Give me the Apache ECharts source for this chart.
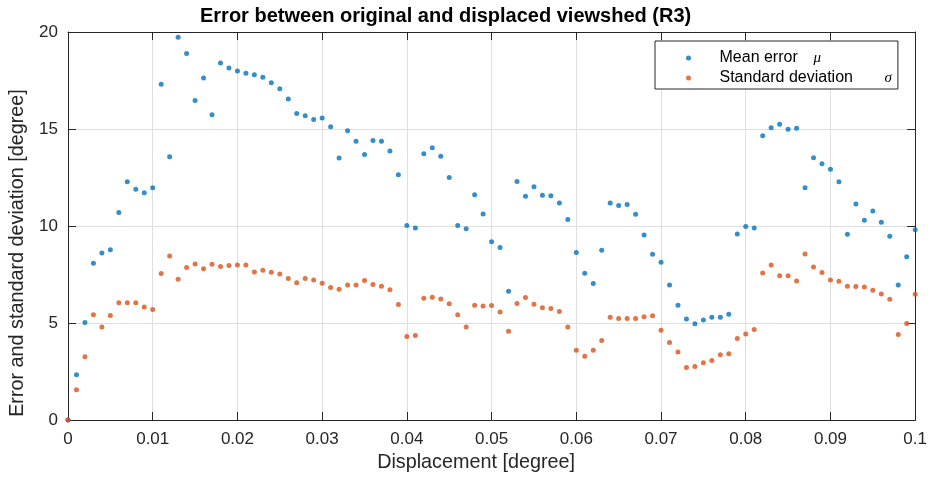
<!DOCTYPE html>
<html>
<head>
<meta charset="utf-8">
<script src="https://cdn.jsdelivr.net/npm/echarts@6/dist/echarts.min.js"></script>
<style>
  html, body { margin: 0; padding: 0; background: #fff; overflow: hidden; }
  #chart { width: 930px; height: 479px; }
</style>
</head>
<body>
<div id="chart"></div>
<script>
// Displacement samples [degree]
const displacement = [
  0, 0.001, 0.002, 0.003, 0.004, 0.005, 0.006, 0.007, 0.008, 0.009,
  0.010, 0.011, 0.012, 0.013, 0.014, 0.015, 0.016, 0.017, 0.018, 0.019,
  0.020, 0.021, 0.022, 0.023, 0.024, 0.025, 0.026, 0.027, 0.028, 0.029,
  0.030, 0.031, 0.032, 0.033, 0.034, 0.035, 0.036, 0.037, 0.038, 0.039,
  0.040, 0.041, 0.042, 0.043, 0.044, 0.045, 0.046, 0.047, 0.048, 0.049,
  0.050, 0.051, 0.052, 0.053, 0.054, 0.055, 0.056, 0.057, 0.058, 0.059,
  0.060, 0.061, 0.062, 0.063, 0.064, 0.065, 0.066, 0.067, 0.068, 0.069,
  0.070, 0.071, 0.072, 0.073, 0.074, 0.075, 0.076, 0.077, 0.078, 0.079,
  0.080, 0.081, 0.082, 0.083, 0.084, 0.085, 0.086, 0.087, 0.088, 0.089,
  0.090, 0.091, 0.092, 0.093, 0.094, 0.095, 0.096, 0.097, 0.098, 0.099,
  0.100
];

// Mean error mu [degree]
const meanError = [
  0, 2.33, 5.03, 8.08, 8.61, 8.77, 10.70, 12.28, 11.89, 11.72,
  11.97, 17.31, 13.57, 19.73, 18.89, 16.47, 17.63, 15.73, 18.40, 18.15,
  17.99, 17.87, 17.79, 17.67, 17.39, 17.08, 16.55, 15.80, 15.68, 15.49,
  15.57, 15.11, 13.50, 14.91, 14.37, 13.69, 14.41, 14.37, 13.86, 12.64,
  10.03, 9.90, 13.72, 14.03, 13.60, 12.50, 10.03, 9.86, 11.61, 10.62,
  9.19, 8.89, 6.64, 12.30, 11.53, 12.02, 11.58, 11.56, 11.18, 10.34,
  8.64, 7.56, 7.03, 8.75, 11.18, 11.06, 11.11, 10.60, 9.54, 8.54,
  8.13, 6.96, 5.92, 5.20, 4.96, 5.15, 5.30, 5.30, 5.45, 9.59,
  9.98, 9.90, 14.65, 15.06, 15.25, 14.99, 15.04, 11.97, 13.52, 13.21,
  12.92, 12.28, 9.57, 11.13, 10.29, 10.77, 10.19, 9.47, 6.96, 8.42,
  9.81
];

// Standard deviation sigma [degree]
const stdDev = [
  0, 1.56, 3.26, 5.42, 4.80, 5.39, 6.04, 6.05, 6.04, 5.83,
  5.69, 7.55, 8.46, 7.26, 7.86, 8.04, 7.80, 8.03, 7.91, 7.96,
  7.99, 7.99, 7.63, 7.72, 7.62, 7.53, 7.29, 7.08, 7.29, 7.22,
  7.05, 6.83, 6.74, 6.96, 6.96, 7.19, 6.98, 6.90, 6.72, 5.95,
  4.31, 4.36, 6.28, 6.33, 6.24, 5.99, 5.42, 4.79, 5.92, 5.88,
  5.90, 5.57, 4.58, 6.00, 6.31, 5.97, 5.78, 5.75, 5.59, 4.79,
  3.60, 3.29, 3.60, 4.10, 5.30, 5.23, 5.23, 5.23, 5.32, 5.37,
  4.63, 4.00, 3.50, 2.71, 2.76, 2.95, 3.07, 3.36, 3.41, 4.20,
  4.43, 4.67, 7.58, 7.99, 7.43, 7.43, 7.17, 8.56, 7.89, 7.60,
  7.22, 7.15, 6.90, 6.88, 6.86, 6.69, 6.50, 6.23, 4.41, 4.97,
  6.48
];

// Tick labels
const xTickLabels = ['0', '0.01', '0.02', '0.03', '0.04', '0.05', '0.06', '0.07', '0.08', '0.09', '0.1'];
const yTickLabels = ['0', '5', '10', '15', '20'];

const FONT = '"Liberation Sans", Arial, Helvetica, sans-serif';
const AXIS_COLOR = '#262626';
const GRID_COLOR = '#dfdfdf';
const BLUE = '#0072BD';
const ORANGE = '#D95319';

const pairs = (xs, ys) => xs.map((x, i) => [x, ys[i]]);

// Unlabelled axes closing the box on the top and right sides
const boxAxisX = (pos) => ({
  type: 'value', position: pos, min: 0, max: 0.1, interval: 0.01,
  axisLine: { show: true, onZero: false, lineStyle: { color: AXIS_COLOR, width: 1 } },
  axisTick: { show: true, inside: true, length: 8, lineStyle: { color: AXIS_COLOR } },
  splitLine: { show: false },
  axisLabel: { show: false }
});
const boxAxisY = (pos) => ({
  type: 'value', position: pos, min: 0, max: 20, interval: 5,
  axisLine: { show: true, onZero: false, lineStyle: { color: AXIS_COLOR, width: 1 } },
  axisTick: { show: true, inside: true, length: 8, lineStyle: { color: AXIS_COLOR } },
  splitLine: { show: false },
  axisLabel: { show: false }
});

const chart = echarts.init(document.getElementById('chart'), null, { renderer: 'canvas' });

chart.setOption({
  animation: false,
  backgroundColor: '#ffffff',
  textStyle: { fontFamily: FONT },
  title: {
    text: 'Error between original and displaced viewshed (R3)',
    left: 200, top: 6, padding: 0,
    textStyle: { fontFamily: FONT, fontSize: 20, fontWeight: 'bold', color: '#000' }
  },
  grid: { left: 67, right: 12, top: 32, bottom: 59, containLabel: false },
  legend: {
    left: 655, top: 41,
    orient: 'vertical',
    padding: [9, 6, 3, 31],
    itemGap: 4,
    itemWidth: 52, itemHeight: 5,
    backgroundColor: '#ffffff',
    borderColor: AXIS_COLOR, borderWidth: 1, borderRadius: 0,
    selectedMode: false,
    data: ['Mean error', 'Standard deviation'],
    formatter: (name) => name === 'Mean error'
      ? '{t1|Mean error}{g|μ}'
      : '{t2|Standard deviation}{g|σ}',
    textStyle: {
      fontFamily: FONT, fontSize: 16, color: '#000',
      rich: {
        t1: { fontFamily: FONT, fontSize: 16, width: 94, lineHeight: 16, color: '#000' },
        t2: { fontFamily: FONT, fontSize: 16, width: 165, lineHeight: 16, color: '#000' },
        g: { fontFamily: '"Liberation Serif", "DejaVu Serif", serif', fontStyle: 'italic', fontSize: 15, lineHeight: 16, color: '#000' }
      }
    }
  },
  xAxis: [
    {
      type: 'value', position: 'bottom', min: 0, max: 0.1, interval: 0.01,
      name: 'Displacement [degree]',
      nameLocation: 'middle', nameGap: 33,
      nameTextStyle: { fontFamily: FONT, fontSize: 19.8, color: AXIS_COLOR, padding: [0, 31, 0, 0] },
      axisLine: { show: true, onZero: false, lineStyle: { color: AXIS_COLOR, width: 1 } },
      axisTick: { show: true, inside: true, length: 8, lineStyle: { color: AXIS_COLOR } },
      splitLine: { show: true, lineStyle: { color: GRID_COLOR, width: 1 } },
      axisLabel: {
        margin: 11, fontFamily: FONT, fontSize: 17, color: AXIS_COLOR,
        formatter: (v) => xTickLabels[Math.round(v * 100)]
      }
    },
    boxAxisX('top')
  ],
  yAxis: [
    {
      type: 'value', position: 'left', min: 0, max: 20, interval: 5,
      name: 'Error and standard deviation [degree]',
      nameLocation: 'middle', nameGap: 40, nameRotate: 90,
      nameTextStyle: { fontFamily: FONT, fontSize: 19.8, color: AXIS_COLOR, padding: [0, 54, 0, 0] },
      axisLine: { show: true, onZero: false, lineStyle: { color: AXIS_COLOR, width: 1 } },
      axisTick: { show: true, inside: true, length: 8, lineStyle: { color: AXIS_COLOR } },
      splitLine: { show: true, lineStyle: { color: GRID_COLOR, width: 1 } },
      axisLabel: {
        margin: 10, fontFamily: FONT, fontSize: 17, color: AXIS_COLOR,
        formatter: (v) => yTickLabels[Math.round(v / 5)]
      }
    },
    boxAxisY('right')
  ],
  series: [
    {
      name: 'Mean error', type: 'scatter',
      xAxisIndex: 0, yAxisIndex: 0,
      data: pairs(displacement, meanError),
      symbol: 'circle', symbolSize: 5,
      itemStyle: { color: BLUE },
      emphasis: { disabled: true }
    },
    {
      name: 'Standard deviation', type: 'scatter',
      xAxisIndex: 0, yAxisIndex: 0,
      data: pairs(displacement, stdDev),
      symbol: 'circle', symbolSize: 5,
      itemStyle: { color: ORANGE },
      emphasis: { disabled: true }
    }
  ]
});
</script>
</body>
</html>
